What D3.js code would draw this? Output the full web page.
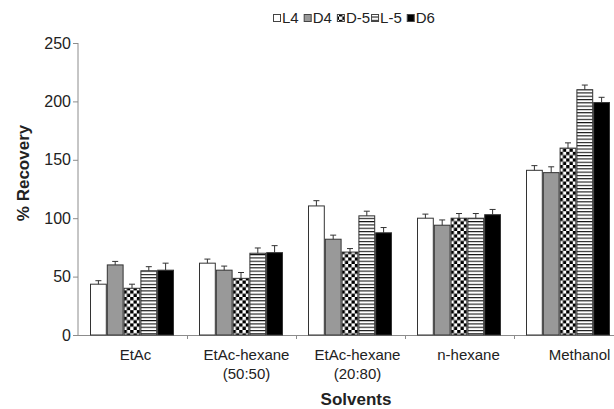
<!DOCTYPE html>
<html>
<head>
<meta charset="utf-8">
<script src="https://cdn.jsdelivr.net/npm/d3@7"></script>
<style>
  body { margin: 0; background: #fff; }
  svg { font-family: "Liberation Sans", Arial, sans-serif; }
  .axis path, .axis line { stroke: #8c8c8c; }
  .axis text { fill: #222; font-size: 16px; }
</style>
</head>
<body>
<svg width="614" height="409"></svg>
<script>
const categories = ["EtAc", "EtAc-hexane\n(50:50)", "EtAc-hexane\n(20:80)", "n-hexane", "Methanol"]
const series = ["L4", "D4", "D-5", "L-5", "D6"]

// mean recovery per series, one value per solvent
const L4 = [43.5, 61.5, 110.5, 100, 141]
const D4 = [60, 55.5, 82, 94, 139]
const D5 = [40, 48.5, 71, 100, 160]
const L5 = [55, 70, 102, 100, 210]
const D6 = [55.5, 70.5, 87.5, 103, 199]

// upper error bar sizes
const L4err = [3, 3.5, 4.5, 3.5, 4]
const D4err = [3, 3.5, 3.5, 4.5, 5]
const D5err = [3.5, 5, 3, 4, 4.5]
const L5err = [3.5, 4.5, 4, 4, 4]
const D6err = [6, 6, 4.5, 4.5, 4.5]

const yTicks = [0, 50, 100, 150, 200, 250]

const values = [L4, D4, D5, L5, D6]
const errors = [L4err, D4err, D5err, L5err, D6err]

const data = []
series.forEach((s, si) => {
  categories.forEach((c, ci) => {
    data.push({ series: s, cat: c, value: values[si][ci], err: errors[si][ci] })
  })
})

const svg = d3.select("svg")
const defs = svg.append("defs")

// checkerboard for D-5
const chk = defs.append("pattern")
  .attr("id", "checker")
  .attr("patternUnits", "userSpaceOnUse")
  .attr("width", 6.6).attr("height", 6.6)
chk.append("rect").attr("width", 6.6).attr("height", 6.6).attr("fill", "#fff")
chk.append("rect").attr("width", 3.3).attr("height", 3.3).attr("fill", "#000")
chk.append("rect").attr("x", 3.3).attr("y", 3.3).attr("width", 3.3).attr("height", 3.3).attr("fill", "#000")

// horizontal stripes for L-5
const str = defs.append("pattern")
  .attr("id", "stripes")
  .attr("patternUnits", "userSpaceOnUse")
  .attr("width", 4).attr("height", 3.3)
str.append("rect").attr("width", 4).attr("height", 3.3).attr("fill", "#fff")
str.append("rect").attr("y", 0).attr("width", 4).attr("height", 1.1).attr("fill", "#111")

const fills = {
  "L4": "#fff",
  "D4": "#999",
  "D-5": "url(#checker)",
  "L-5": "url(#stripes)",
  "D6": "#000"
}

const x0 = d3.scaleBand()
  .domain(categories)
  .range([78, 623])

const x1 = d3.scaleBand()
  .domain(series)
  .range([12, x0.bandwidth() - 13])

const y = d3.scaleLinear()
  .domain([0, 250])
  .range([335, 43])

// y axis
const yAxis = svg.append("g")
  .attr("class", "axis")
  .attr("transform", "translate(78,0)")
  .call(d3.axisLeft(y).tickValues(yTicks).tickSize(5).tickPadding(2))
yAxis.select(".domain").attr("d", `M0,${y(250)}V${y(0)}`)

// x axis line with ticks between groups
svg.append("line")
  .attr("x1", 78).attr("x2", 614)
  .attr("y1", y(0) + 0.5).attr("y2", y(0) + 0.5)
  .attr("stroke", "#8c8c8c")

svg.selectAll("line.sep")
  .data(categories.slice(1))
  .enter().append("line")
  .attr("class", "sep")
  .attr("x1", d => Math.round(x0(d)) + 0.5)
  .attr("x2", d => Math.round(x0(d)) + 0.5)
  .attr("y1", y(0))
  .attr("y2", y(0) + 4)
  .attr("stroke", "#8c8c8c")

// bars
const groups = svg.selectAll("g.bar")
  .data(data)
  .enter().append("g")
  .attr("class", "bar")
  .attr("transform", d => `translate(${x0(d.cat) + x1(d.series)},0)`)

groups.append("rect")
  .attr("x", 0.5)
  .attr("y", d => y(d.value))
  .attr("width", x1.bandwidth() - 1)
  .attr("height", d => y(0) - y(d.value))
  .attr("fill", d => fills[d.series])
  .attr("stroke", "#333")
  .attr("stroke-width", 1)

// error bars (upper only)
groups.append("line")
  .attr("x1", x1.bandwidth() / 2).attr("x2", x1.bandwidth() / 2)
  .attr("y1", d => y(d.value))
  .attr("y2", d => y(d.value + d.err))
  .attr("stroke", "#333")
groups.append("line")
  .attr("x1", x1.bandwidth() / 2 - 3).attr("x2", x1.bandwidth() / 2 + 3)
  .attr("y1", d => y(d.value + d.err))
  .attr("y2", d => y(d.value + d.err))
  .attr("stroke", "#333")

// category labels
const catLabels = svg.selectAll("text.cat")
  .data(categories)
  .enter().append("text")
  .attr("class", "cat")
  .attr("x", (d, i) => x0(d) + x0.bandwidth() / 2 + 3 + i * 2)
  .attr("y", 360)
  .attr("text-anchor", "middle")
  .attr("font-size", "15px")
  .attr("fill", "#222")

catLabels.each(function(d) {
  const lines = d.split("\n")
  const t = d3.select(this)
  lines.forEach((l, i) => {
    t.append("tspan")
      .attr("x", t.attr("x"))
      .attr("dy", i == 0 ? 0 : 19)
      .text(l)
  })
})

// axis titles
svg.append("text")
  .attr("x", 356)
  .attr("y", 405)
  .attr("text-anchor", "middle")
  .attr("font-size", "17px")
  .attr("font-weight", "bold")
  .attr("fill", "#222")
  .text("Solvents")

svg.append("text")
  .attr("transform", "translate(29,173) rotate(-90)")
  .attr("text-anchor", "middle")
  .attr("font-size", "17px")
  .attr("font-weight", "bold")
  .attr("fill", "#222")
  .text("% Recovery")

// legend
const legend = svg.append("g").attr("transform", "translate(273,0)")
let lx = 0
series.forEach((s, i) => {
  legend.append("rect")
    .attr("x", lx + 0.5)
    .attr("y", 14.5)
    .attr("width", 7)
    .attr("height", 7)
    .attr("fill", fills[s])
    .attr("stroke", "#444")
  const t = legend.append("text")
    .attr("x", lx + 9)
    .attr("y", 23)
    .attr("font-size", "15px")
    .attr("fill", "#222")
    .text(s)
  lx += 9 + t.node().getComputedTextLength() + (s == "D-5" ? 1 : 5)
})
</script>
</body>
</html>
